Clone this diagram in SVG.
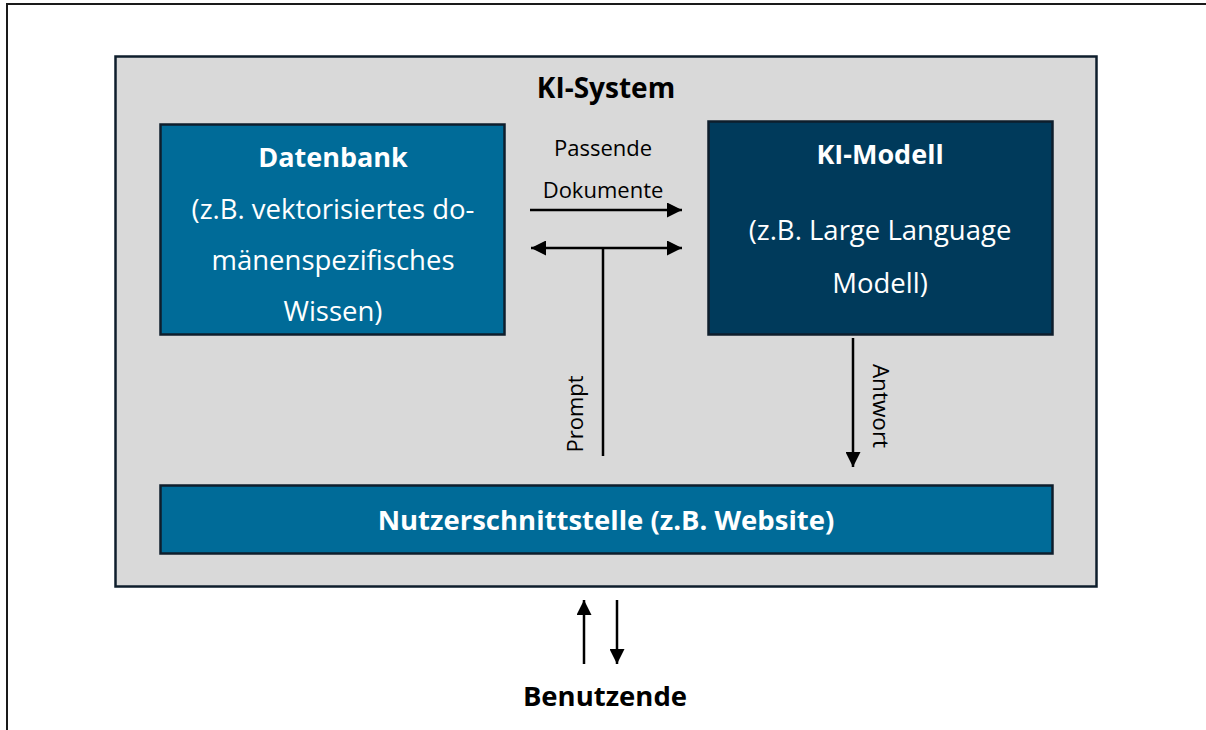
<svg xmlns="http://www.w3.org/2000/svg" width="1206" height="730" viewBox="0 0 1206 730">
<defs>
<marker id="ah" viewBox="0 0 10 10" refX="10" refY="5" markerWidth="15" markerHeight="15" markerUnits="userSpaceOnUse" orient="auto-start-reverse">
<path d="M0,0 L10,5 L0,10 z" fill="#000"/>
</marker>
<style>
.t{font-family:"Open Sans","Noto Sans","Liberation Sans",sans-serif;text-anchor:middle}
.w{fill:#fff}
.b{font-weight:bold}
.box{stroke:#0e1e2c;stroke-width:2.5}
.ln{stroke:#000;stroke-width:2.5;fill:none}
</style>
</defs>
<rect x="0" y="0" width="1206" height="730" fill="#fff"/>
<rect x="7" y="4" width="1220" height="760" fill="none" stroke="#1a1a1a" stroke-width="2"/>
<g id="ki-system">
<rect x="115.5" y="56.5" width="981" height="530" fill="#d9d9d9" stroke="#0e1e2c" stroke-width="2.5"/>
<text class="t b" x="606" y="98" font-size="28">KI-System</text>
</g>
<g id="datenbank">
<rect class="box" x="160.5" y="124.5" width="344" height="210" fill="#006b98"/>
<text class="t w b" x="333" y="167" font-size="27">Datenbank</text>
<text class="t w" x="333" y="219" font-size="27.5">(z.B. vektorisiertes do-</text>
<text class="t w" x="333" y="270" font-size="27.5">mänenspezifisches</text>
<text class="t w" x="333" y="321" font-size="27.5">Wissen)</text>
</g>
<g id="ki-modell">
<rect class="box" x="708.5" y="121.5" width="344" height="213" fill="#003a5b"/>
<text class="t w b" x="880" y="164" font-size="27">KI-Modell</text>
<text class="t w" x="880" y="240" font-size="27.5">(z.B. Large Language</text>
<text class="t w" x="880" y="293" font-size="27.5">Modell)</text>
</g>
<g id="nutzerschnittstelle">
<rect class="box" x="160.5" y="485.5" width="892" height="68" fill="#006b98"/>
<text class="t w b" x="606" y="530" font-size="27.5">Nutzerschnittstelle (z.B. Website)</text>
</g>
<g id="benutzende">
<text class="t b" x="605" y="706" font-size="27.5">Benutzende</text>
</g>
<g id="connectors">
<line class="ln" x1="530" y1="210" x2="682" y2="210" marker-end="url(#ah)"/>
<line class="ln" x1="531" y1="248" x2="682" y2="248" marker-start="url(#ah)" marker-end="url(#ah)"/>
<line class="ln" x1="603" y1="248" x2="603" y2="456"/>
<line class="ln" x1="853" y1="338" x2="853" y2="467" marker-end="url(#ah)"/>
<line class="ln" x1="584" y1="664" x2="584" y2="600" marker-end="url(#ah)"/>
<line class="ln" x1="617" y1="600" x2="617" y2="664" marker-end="url(#ah)"/>
<text class="t" x="603" y="156" font-size="22">Passende</text>
<text class="t" x="603" y="198" font-size="22">Dokumente</text>
<text class="t" transform="translate(583,414) rotate(-90)" font-size="22">Prompt</text>
<text class="t" transform="translate(873,406) rotate(90)" font-size="22.5">Antwort</text>
</g>
</svg>
